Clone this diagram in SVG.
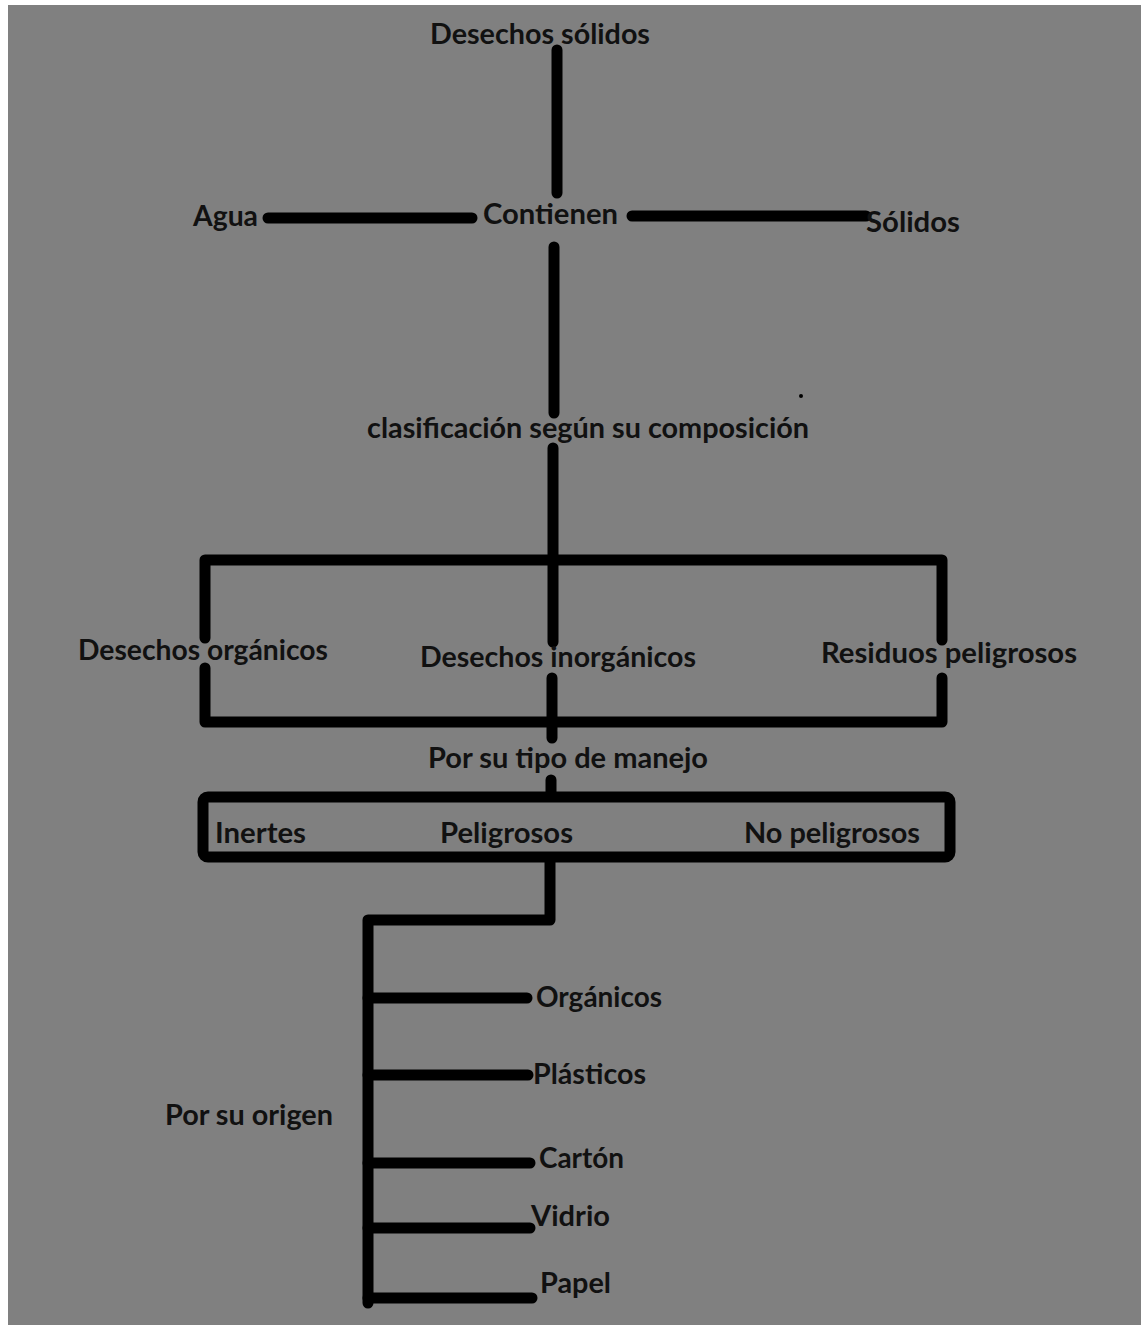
<svg xmlns="http://www.w3.org/2000/svg" width="1141" height="1325" viewBox="0 0 1141 1325">
<style>
.t{font-family:"Lato","Open Sans","Liberation Sans",sans-serif;font-weight:700;font-size:29px;fill:#111}
.c{stroke:#000;stroke-width:11;stroke-linecap:round;fill:none;stroke-linejoin:round}
</style>
<rect x="0" y="0" width="1141" height="1325" fill="#fff"/>
<rect x="8" y="5" width="1133" height="1320" fill="#808080"/>
<g id="connectors">
<line class="c" x1="557" y1="50" x2="557" y2="193"/>
<line class="c" x1="268" y1="218" x2="472" y2="218"/>
<line class="c" x1="632" y1="216" x2="866" y2="216"/>
<line class="c" x1="554" y1="247" x2="554" y2="413"/>
<line class="c" x1="553" y1="448" x2="553" y2="642"/>
<line class="c" x1="552" y1="678" x2="552" y2="738"/>
<line class="c" x1="551" y1="780" x2="551" y2="795"/>
<path class="c" d="M205 638 V560 H942 V640"/>
<path class="c" d="M205 668 V722 H942 V678"/>
<rect class="c" x="203" y="797" width="747" height="60" rx="5"/>
<path class="c" d="M550 858 V920 H368 V1303" stroke-linejoin="miter"/>
<line class="c" x1="368" y1="998" x2="527" y2="998"/>
<line class="c" x1="368" y1="1075" x2="528" y2="1075"/>
<line class="c" x1="368" y1="1163" x2="530" y2="1163"/>
<line class="c" x1="368" y1="1228" x2="530" y2="1228"/>
<line class="c" x1="368" y1="1298" x2="532" y2="1298"/>
<circle cx="801" cy="396" r="2" fill="#000"/>
</g>
<g id="n-desechos-solidos"><text class="t" x="430" y="44" textLength="220" lengthAdjust="spacingAndGlyphs">Desechos sólidos</text></g>
<g id="n-agua"><text class="t" x="193" y="226" textLength="65" lengthAdjust="spacingAndGlyphs">Agua</text></g>
<g id="n-contienen"><text class="t" x="483" y="224" textLength="135" lengthAdjust="spacingAndGlyphs">Contienen</text></g>
<g id="n-solidos"><text class="t" x="866" y="232" textLength="94" lengthAdjust="spacingAndGlyphs">Sólidos</text></g>
<g id="n-clasificacion"><text class="t" x="367" y="438" textLength="442" lengthAdjust="spacingAndGlyphs">clasificación según su composición</text></g>
<g id="n-organicos"><text class="t" x="78" y="660" textLength="250" lengthAdjust="spacingAndGlyphs">Desechos orgánicos</text></g>
<g id="n-inorganicos"><text class="t" x="420" y="667" textLength="276" lengthAdjust="spacingAndGlyphs">Desechos inorgánicos</text></g>
<g id="n-residuos"><text class="t" x="821" y="663" textLength="256" lengthAdjust="spacingAndGlyphs">Residuos peligrosos</text></g>
<g id="n-manejo"><text class="t" x="428" y="768" textLength="280" lengthAdjust="spacingAndGlyphs">Por su tipo de manejo</text></g>
<g id="n-inertes"><text class="t" x="215" y="843" textLength="91" lengthAdjust="spacingAndGlyphs">Inertes</text></g>
<g id="n-peligrosos"><text class="t" x="440" y="843" textLength="133" lengthAdjust="spacingAndGlyphs">Peligrosos</text></g>
<g id="n-no-peligrosos"><text class="t" x="744" y="843" textLength="176" lengthAdjust="spacingAndGlyphs">No peligrosos</text></g>
<g id="n-origen"><text class="t" x="165" y="1125" textLength="168" lengthAdjust="spacingAndGlyphs">Por su origen</text></g>
<g id="n-org"><text class="t" x="536" y="1007" textLength="126" lengthAdjust="spacingAndGlyphs">Orgánicos</text></g>
<g id="n-plasticos"><text class="t" x="533" y="1084" textLength="113" lengthAdjust="spacingAndGlyphs">Plásticos</text></g>
<g id="n-carton"><text class="t" x="539" y="1168" textLength="85" lengthAdjust="spacingAndGlyphs">Cartón</text></g>
<g id="n-vidrio"><text class="t" x="531" y="1226" textLength="79" lengthAdjust="spacingAndGlyphs">Vidrio</text></g>
<g id="n-papel"><text class="t" x="540" y="1293" textLength="71" lengthAdjust="spacingAndGlyphs">Papel</text></g>
</svg>
